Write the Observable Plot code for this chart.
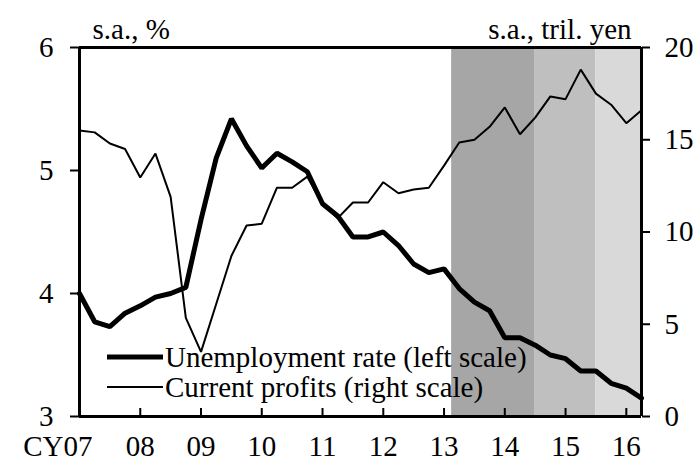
<!DOCTYPE html>
<html>
<head>
<meta charset="utf-8">
<script src="https://cdn.jsdelivr.net/npm/d3@7"></script>
<script src="https://cdn.jsdelivr.net/npm/@observablehq/plot@0.6"></script>
<style>
  html, body { margin: 0; padding: 0; background: #fff; }
  #chart svg { display: block; }
</style>
</head>
<body>
<div id="chart"></div>
<script>
// Quarterly observations, CY2007Q1 .. CY2016Q2 (index 0..37)
const quarters = d3.range(38);
const unemployment = [4.00, 3.77, 3.73, 3.84, 3.90, 3.97, 4.00, 4.05, 4.60, 5.10, 5.42, 5.20, 5.02, 5.14, 5.07, 4.99, 4.73, 4.63, 4.46, 4.46, 4.50, 4.39, 4.24, 4.17, 4.20, 4.04, 3.93, 3.86, 3.64, 3.64, 3.58, 3.50, 3.47, 3.37, 3.37, 3.27, 3.23, 3.15];
const profits = [15.5, 15.4, 14.8, 14.5, 12.95, 14.25, 11.9, 5.35, 3.5, 6.1, 8.7, 10.35, 10.45, 12.4, 12.4, 13.0, 11.5, 10.75, 11.6, 11.6, 12.7, 12.1, 12.3, 12.4, 13.6, 14.85, 15.0, 15.7, 16.75, 15.3, 16.2, 17.35, 17.2, 18.8, 17.5, 16.9, 15.9, 16.6];

// Shaded periods (quarter index)
const shadeStart = [24.5, 30, 34];
const shadeEnd = [30, 34, 37];
const shadeFill = ["#a6a6a6", "#bfbfbf", "#d9d9d9"];

// Axis ticks
const leftTicks = [3, 4, 5, 6];
const rightTicks = [0, 5, 10, 15, 20];
const xTickPos = [0, 4, 8, 12, 16, 20, 24, 28, 32, 36];
const xTickLabels = ["CY07", "08", "09", "10", "11", "12", "13", "14", "15", "16"];

// Right scale (0..20 tril. yen) mapped onto left scale (3..6 %)
const toLeft = v => 3 + v * 3 / 20;

const series = quarters.map(i => ({q: i, u: unemployment[i], p: toLeft(profits[i])}));
const shades = shadeStart.map((s, i) => ({x1: s, x2: shadeEnd[i], fill: shadeFill[i]}));

const FONT = "'Liberation Serif', 'Times New Roman', Times, serif";
const FS = 29;

const chart = Plot.plot({
  width: 696,
  height: 461,
  marginLeft: 79,
  marginRight: 55,
  marginTop: 47,
  marginBottom: 45,
  style: {fontFamily: FONT, fontSize: FS + "px", color: "#000", background: "#fff"},
  x: {domain: [0, 37], axis: null},
  y: {domain: [3, 6], axis: null},
  marks: [
    Plot.rect(shades, {x1: "x1", x2: "x2", fill: "fill"}),
    Plot.line(series, {x: "q", y: "p", stroke: "#000", strokeWidth: 2, strokeLinejoin: "miter"}),
    Plot.line(series, {x: "q", y: "u", stroke: "#000", strokeWidth: 5, strokeLinejoin: "miter"}),
    Plot.axisY({anchor: "left", ticks: leftTicks, tickFormat: d => String(d), tickSize: 9, tickPadding: 17, strokeWidth: 2, fontSize: FS, label: null}),
    Plot.axisY({anchor: "right", ticks: rightTicks.map(toLeft), tickFormat: d => String(Math.round((d - 3) * 20 / 3)), tickSize: 8, tickPadding: 15, strokeWidth: 2, fontSize: FS, label: null}),
    Plot.tickX(xTickPos.slice(1), {x: d => d, insetTop: 361, strokeWidth: 2}),
    Plot.ruleX([0, 37], {strokeWidth: 3}),
    Plot.ruleY([3, 6], {strokeWidth: 3}),
    Plot.text(xTickLabels.slice(1), {x: (d, i) => xTickPos[i + 1], text: d => d, frameAnchor: "bottom", dy: 39, lineAnchor: "bottom", fontSize: FS}),
    Plot.text(xTickLabels.slice(0, 1), {x: (d, i) => xTickPos[i], text: d => d, frameAnchor: "bottom", dy: 39, dx: 13, textAnchor: "end", lineAnchor: "bottom", fontSize: FS}),
    Plot.text(["s.a., %"], {frameAnchor: "top-left", dx: 13, dy: -9, textAnchor: "start", lineAnchor: "bottom", fontSize: FS}),
    Plot.text(["s.a., tril. yen"], {frameAnchor: "top-right", dx: -10, dy: -9, textAnchor: "end", lineAnchor: "bottom", fontSize: FS})
  ]
});

// Legend (inside the plot area, lower left)
const svg = d3.select(chart);
const legendItems = [
  {label: "Unemployment rate (left scale)", width: 5, y: 357},
  {label: "Current profits (right scale)", width: 2, y: 387}
];
const lg = svg.append("g").attr("font-family", FONT).attr("font-size", FS).attr("text-anchor", "start");
legendItems.forEach(it => {
  lg.append("line").attr("x1", 107).attr("x2", 163).attr("y1", it.y).attr("y2", it.y)
    .attr("stroke", "#000").attr("stroke-width", it.width);
  lg.append("text").attr("x", 165).attr("y", it.y + 10).attr("fill", "#000")
    .attr("text-anchor", "start").text(it.label);
});

document.getElementById("chart").appendChild(chart);
</script>
</body>
</html>
